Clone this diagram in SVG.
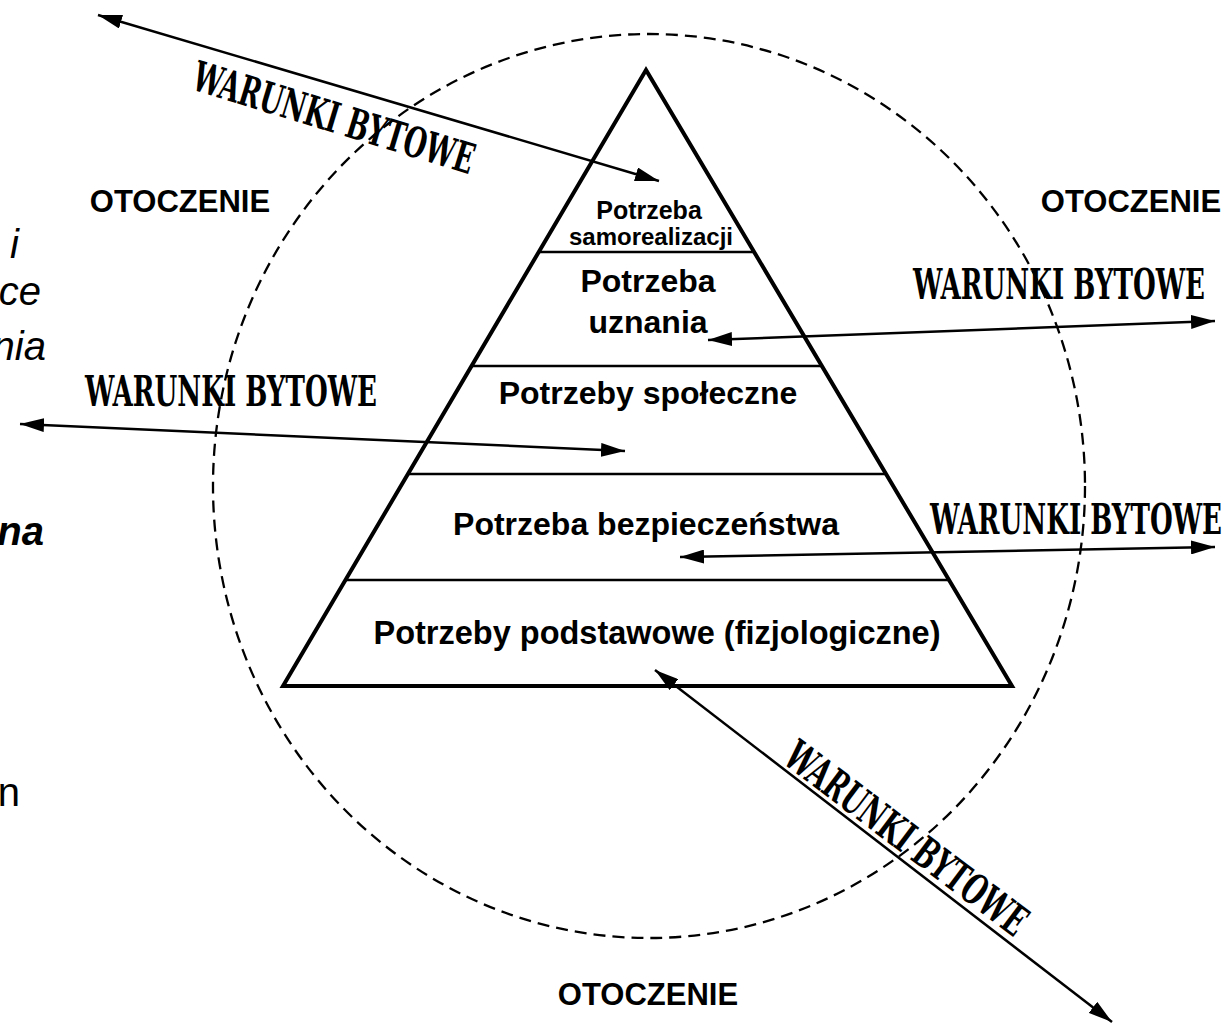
<svg xmlns="http://www.w3.org/2000/svg" width="1228" height="1023" viewBox="0 0 1228 1023">
<style>
.lbl{font-family:"Liberation Sans",Arial,sans-serif;font-weight:bold;fill:#000;text-anchor:middle}
.war{font-family:"DejaVu Serif Condensed","DejaVu Serif",serif;font-weight:bold;font-size:42px;fill:#000}
.side{font-family:"Liberation Sans",Arial,sans-serif;font-size:40px;font-style:italic;fill:#000;text-anchor:end}
.conn line{stroke:#000;stroke-width:2.5;fill:none}
.tier{stroke:#000;stroke-width:2.5}
</style>
<defs>
<marker id="ah" viewBox="0 0 24 14" refX="24" refY="7" markerWidth="24" markerHeight="14" markerUnits="userSpaceOnUse" orient="auto-start-reverse">
<path d="M0,0 L24,7 L0,14 z" fill="#000"/>
</marker>
</defs>
<rect width="1228" height="1023" fill="#fff"/>

<g id="clipped-side-text">
<text class="side" x="19" y="258">i</text>
<text class="side" x="41" y="305">ce</text>
<text class="side" x="46" y="360">nia</text>
<text class="side" x="44" y="545" style="font-weight:bold">na</text>
<text class="side" x="20" y="806" style="font-style:normal">n</text>
</g>

<g id="environment">
<ellipse cx="649" cy="486" rx="436" ry="452" fill="none" stroke="#000" stroke-width="2.3" stroke-dasharray="12 7"/>
</g>

<g id="pyramid">
<polygon points="646,70 283,686 1012,686" fill="none" stroke="#000" stroke-width="4" stroke-linejoin="miter"/>
<line class="tier" x1="539" y1="252" x2="754" y2="252"/>
<line class="tier" x1="472" y1="366" x2="822" y2="366"/>
<line class="tier" x1="408" y1="474" x2="886" y2="474"/>
<line class="tier" x1="346" y1="580" x2="949" y2="580"/>
</g>

<g id="tier-self">
<text class="lbl" x="649" y="219" font-size="25">Potrzeba</text>
<text class="lbl" x="651" y="245" font-size="24">samorealizacji</text>
</g>
<g id="tier-esteem">
<text class="lbl" x="648" y="292" font-size="32">Potrzeba</text>
<text class="lbl" x="648" y="333" font-size="32">uznania</text>
</g>
<g id="tier-social">
<text class="lbl" x="648" y="404" font-size="32">Potrzeby społeczne</text>
</g>
<g id="tier-safety">
<text class="lbl" x="646" y="535" font-size="32">Potrzeba bezpieczeństwa</text>
</g>
<g id="tier-basic">
<text class="lbl" x="657" y="644" font-size="32.5">Potrzeby podstawowe (fizjologiczne)</text>
</g>

<g id="otoczenie-labels">
<text class="lbl" x="180" y="212" font-size="31">OTOCZENIE</text>
<text class="lbl" x="1131" y="212" font-size="31">OTOCZENIE</text>
<text class="lbl" x="648" y="1005" font-size="31">OTOCZENIE</text>
</g>

<g id="connectors" class="conn">
<line x1="98" y1="15" x2="659" y2="181" marker-start="url(#ah)" marker-end="url(#ah)"/>
<line x1="708" y1="340" x2="1215" y2="321" marker-start="url(#ah)" marker-end="url(#ah)"/>
<line x1="20" y1="424" x2="625" y2="451" marker-start="url(#ah)" marker-end="url(#ah)"/>
<line x1="680" y1="557" x2="1215" y2="547" marker-start="url(#ah)" marker-end="url(#ah)"/>
<line x1="655" y1="670" x2="1112" y2="1022" marker-start="url(#ah)" marker-end="url(#ah)"/>
</g>

<g id="warunki-labels">
<text class="war" transform="translate(190,89) rotate(17)" textLength="292" lengthAdjust="spacingAndGlyphs">WARUNKI BYTOWE</text>
<text class="war" x="913" y="299" textLength="292" lengthAdjust="spacingAndGlyphs">WARUNKI BYTOWE</text>
<text class="war" x="85" y="406" textLength="292" lengthAdjust="spacingAndGlyphs">WARUNKI BYTOWE</text>
<text class="war" x="930" y="534" textLength="292" lengthAdjust="spacingAndGlyphs">WARUNKI BYTOWE</text>
<text class="war" transform="translate(781,762) rotate(37)" textLength="292" lengthAdjust="spacingAndGlyphs">WARUNKI BYTOWE</text>
</g>
</svg>
